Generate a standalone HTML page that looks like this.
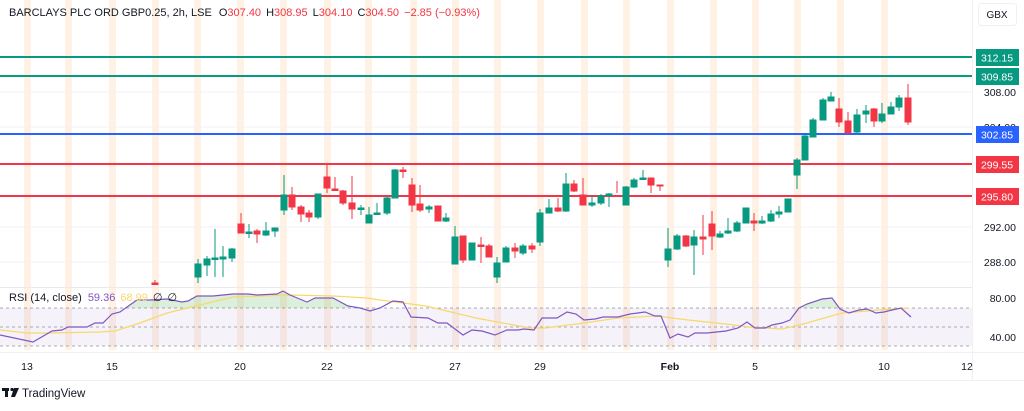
<!DOCTYPE html>
<html><head><meta charset="utf-8"><style>
body{margin:0;background:#fff;width:1024px;height:406px;overflow:hidden;font-family:"Liberation Sans","DejaVu Sans",sans-serif}
</style></head><body>
<svg width="1024" height="406" viewBox="0 0 1024 406" xmlns="http://www.w3.org/2000/svg" font-family="Liberation Sans, DejaVu Sans, sans-serif">
<rect width="1024" height="406" fill="#fff"/>
<g fill="#ffa64d" opacity="0.15">
<rect x="24" y="0" width="7" height="350"/><rect x="65" y="0" width="7" height="350"/><rect x="109" y="0" width="7" height="350"/><rect x="152" y="0" width="7" height="350"/><rect x="194" y="0" width="7" height="350"/><rect x="237" y="0" width="7" height="350"/><rect x="280" y="0" width="7" height="350"/><rect x="324" y="0" width="7" height="350"/><rect x="365" y="0" width="7" height="350"/><rect x="410" y="0" width="7" height="350"/><rect x="452" y="0" width="7" height="350"/><rect x="494" y="0" width="7" height="350"/><rect x="537" y="0" width="7" height="350"/><rect x="581" y="0" width="7" height="350"/><rect x="623" y="0" width="7" height="350"/><rect x="667" y="0" width="7" height="350"/><rect x="710" y="0" width="7" height="350"/><rect x="752" y="0" width="7" height="350"/><rect x="794" y="0" width="7" height="350"/><rect x="837" y="0" width="7" height="350"/><rect x="881" y="0" width="7" height="350"/>
</g>
<g stroke="#f0f2f5" stroke-width="1">
<line x1="0" y1="92" x2="972" y2="92"/><line x1="0" y1="127" x2="972" y2="127"/><line x1="0" y1="227" x2="972" y2="227"/><line x1="0" y1="262" x2="972" y2="262"/>
</g>
<line x1="972.5" y1="0" x2="972.5" y2="380" stroke="#eef0f3"/>
<line x1="0" y1="287.5" x2="972" y2="287.5" stroke="#e8eaee"/>
<line x1="0" y1="57" x2="972" y2="57" stroke="#089981" stroke-width="2"/>
<line x1="0" y1="76" x2="972" y2="76" stroke="#089981" stroke-width="2"/>
<line x1="0" y1="134" x2="972" y2="134" stroke="#2962ff" stroke-width="2"/>
<line x1="0" y1="164" x2="972" y2="164" stroke="#f23645" stroke-width="2"/>
<line x1="0" y1="196" x2="972" y2="196" stroke="#f23645" stroke-width="2"/>
<g stroke-width="1">
<g stroke="#089981" fill="#089981">
<line x1="198" y1="259" x2="198" y2="283"/><rect x="195" y="264" width="6" height="13"/>
<line x1="207" y1="256" x2="207" y2="276"/><rect x="204" y="259" width="6" height="6"/>
<line x1="215" y1="229" x2="215" y2="277"/><rect x="212" y="258" width="6" height="1.5"/>
<line x1="223" y1="246" x2="223" y2="277"/><rect x="220" y="257" width="6" height="2"/>
<line x1="232" y1="248" x2="232" y2="262"/><rect x="229" y="249" width="6" height="9"/>
<line x1="249" y1="224" x2="249" y2="238"/><rect x="246" y="232" width="6" height="1.5"/>
<line x1="266" y1="222" x2="266" y2="236"/><rect x="263" y="231" width="6" height="4"/>
<line x1="275" y1="228" x2="275" y2="237"/><rect x="272" y="228" width="6" height="3"/>
<line x1="284" y1="175" x2="284" y2="215"/><rect x="281" y="195" width="6" height="15"/>
<line x1="318" y1="194" x2="318" y2="219"/><rect x="315" y="194" width="6" height="23"/>
<line x1="361" y1="205" x2="361" y2="215"/><rect x="358" y="208" width="6" height="1.5"/>
<line x1="369" y1="207" x2="369" y2="223"/><rect x="366" y="215" width="6" height="8"/>
<line x1="377" y1="203" x2="377" y2="215"/><rect x="374" y="213" width="6" height="1.5"/>
<line x1="387" y1="196" x2="387" y2="215"/><rect x="384" y="198" width="6" height="15"/>
<line x1="395" y1="169" x2="395" y2="198"/><rect x="392" y="170" width="6" height="28"/>
<line x1="429" y1="205" x2="429" y2="213"/><rect x="426" y="207" width="6" height="2"/>
<line x1="446" y1="213" x2="446" y2="222"/><rect x="443" y="218" width="6" height="3"/>
<line x1="455" y1="226" x2="455" y2="264"/><rect x="452" y="237" width="6" height="27"/>
<line x1="472" y1="243" x2="472" y2="260"/><rect x="469" y="243" width="6" height="17"/>
<line x1="497" y1="257" x2="497" y2="283"/><rect x="494" y="263" width="6" height="14"/>
<line x1="506" y1="246" x2="506" y2="262"/><rect x="503" y="248" width="6" height="14"/>
<line x1="523" y1="244" x2="523" y2="255"/><rect x="520" y="246" width="6" height="7"/>
<line x1="540" y1="209" x2="540" y2="246"/><rect x="537" y="213" width="6" height="29"/>
<line x1="549" y1="199" x2="549" y2="213"/><rect x="546" y="208" width="6" height="5"/>
<line x1="566" y1="173" x2="566" y2="212"/><rect x="563" y="184" width="6" height="27"/>
<line x1="592" y1="195" x2="592" y2="207"/><rect x="589" y="203" width="6" height="2"/>
<line x1="601" y1="194" x2="601" y2="205"/><rect x="598" y="196" width="6" height="7"/>
<line x1="609" y1="193" x2="609" y2="207"/><rect x="606" y="194" width="6" height="1.5"/>
<line x1="626" y1="186" x2="626" y2="205"/><rect x="623" y="187" width="6" height="18"/>
<line x1="634" y1="178" x2="634" y2="188"/><rect x="631" y="180" width="6" height="7"/>
<line x1="643" y1="170" x2="643" y2="180"/><rect x="640" y="178" width="6" height="1.5"/>
<line x1="668" y1="228" x2="668" y2="267"/><rect x="665" y="249" width="6" height="11"/>
<line x1="677" y1="234" x2="677" y2="250"/><rect x="674" y="236" width="6" height="13"/>
<line x1="694" y1="230" x2="694" y2="275"/><rect x="691" y="237" width="6" height="8"/>
<line x1="720" y1="231" x2="720" y2="238"/><rect x="717" y="234" width="6" height="3"/>
<line x1="728" y1="218" x2="728" y2="234"/><rect x="725" y="231" width="6" height="2"/>
<line x1="737" y1="221" x2="737" y2="232"/><rect x="734" y="223" width="6" height="8"/>
<line x1="746" y1="208" x2="746" y2="223"/><rect x="743" y="208" width="6" height="15"/>
<line x1="762" y1="216" x2="762" y2="224"/><rect x="759" y="221" width="6" height="2"/>
<line x1="771" y1="210" x2="771" y2="222"/><rect x="768" y="214" width="6" height="7"/>
<line x1="779" y1="206" x2="779" y2="218"/><rect x="776" y="212" width="6" height="2"/>
<line x1="788" y1="199" x2="788" y2="212"/><rect x="785" y="199" width="6" height="13"/>
<line x1="797" y1="158" x2="797" y2="189"/><rect x="794" y="160" width="6" height="15"/>
<line x1="805" y1="135" x2="805" y2="160"/><rect x="802" y="136" width="6" height="24"/>
<line x1="813" y1="118" x2="813" y2="137"/><rect x="810" y="120" width="6" height="17"/>
<line x1="823" y1="98" x2="823" y2="120"/><rect x="820" y="100" width="6" height="20"/>
<line x1="831" y1="92" x2="831" y2="101"/><rect x="828" y="97" width="6" height="4"/>
<line x1="857" y1="109" x2="857" y2="135"/><rect x="854" y="115" width="6" height="17"/>
<line x1="866" y1="105" x2="866" y2="123"/><rect x="863" y="111" width="6" height="3"/>
<line x1="882" y1="103" x2="882" y2="123"/><rect x="879" y="114" width="6" height="7"/>
<line x1="891" y1="102" x2="891" y2="114"/><rect x="888" y="107" width="6" height="7"/>
<line x1="899" y1="95" x2="899" y2="111"/><rect x="896" y="98" width="6" height="9"/>
</g>
<g stroke="#f23645" fill="#f23645">
<line x1="155" y1="280" x2="155" y2="285"/><rect x="152" y="283" width="6" height="1.5"/>
<line x1="241" y1="213" x2="241" y2="233"/><rect x="238" y="224" width="6" height="9"/>
<line x1="257" y1="229" x2="257" y2="243"/><rect x="254" y="231" width="6" height="3"/>
<line x1="292" y1="187" x2="292" y2="210"/><rect x="289" y="195" width="6" height="12"/>
<line x1="301" y1="205" x2="301" y2="222"/><rect x="298" y="207" width="6" height="7"/>
<line x1="309" y1="210" x2="309" y2="222"/><rect x="306" y="213" width="6" height="4"/>
<line x1="327" y1="165" x2="327" y2="193"/><rect x="324" y="177" width="6" height="11"/>
<line x1="335" y1="177" x2="335" y2="191"/><rect x="332" y="189" width="6" height="1.5"/>
<line x1="343" y1="190" x2="343" y2="205"/><rect x="340" y="191" width="6" height="12"/>
<line x1="352" y1="176" x2="352" y2="219"/><rect x="349" y="203" width="6" height="6"/>
<line x1="403" y1="167" x2="403" y2="178"/><rect x="400" y="170" width="6" height="1.5"/>
<line x1="412" y1="178" x2="412" y2="212"/><rect x="409" y="185" width="6" height="20"/>
<line x1="420" y1="185" x2="420" y2="212"/><rect x="417" y="204" width="6" height="6"/>
<line x1="438" y1="206" x2="438" y2="221"/><rect x="435" y="206" width="6" height="15"/>
<line x1="463" y1="236" x2="463" y2="263"/><rect x="460" y="236" width="6" height="24"/>
<line x1="481" y1="237" x2="481" y2="263"/><rect x="478" y="245" width="6" height="1.5"/>
<line x1="489" y1="244" x2="489" y2="257"/><rect x="486" y="246" width="6" height="11"/>
<line x1="515" y1="243" x2="515" y2="258"/><rect x="512" y="248" width="6" height="3"/>
<line x1="532" y1="243" x2="532" y2="253"/><rect x="529" y="246" width="6" height="3"/>
<line x1="558" y1="198" x2="558" y2="212"/><rect x="555" y="208" width="6" height="3"/>
<line x1="574" y1="180" x2="574" y2="192"/><rect x="571" y="184" width="6" height="7"/>
<line x1="583" y1="178" x2="583" y2="205"/><rect x="580" y="195" width="6" height="10"/>
<line x1="617" y1="181" x2="617" y2="193"/>
<line x1="651" y1="178" x2="651" y2="193"/><rect x="648" y="178" width="6" height="7"/>
<line x1="660" y1="185" x2="660" y2="191"/><rect x="657" y="185" width="6" height="1"/>
<line x1="686" y1="235" x2="686" y2="247"/><rect x="683" y="236" width="6" height="10"/>
<line x1="703" y1="215" x2="703" y2="255"/><rect x="700" y="237" width="6" height="2"/>
<line x1="712" y1="211" x2="712" y2="250"/><rect x="709" y="224" width="6" height="12"/>
<line x1="754" y1="213" x2="754" y2="231"/><rect x="751" y="221" width="6" height="2"/>
<line x1="839" y1="98" x2="839" y2="127"/><rect x="836" y="109" width="6" height="13"/>
<line x1="848" y1="112" x2="848" y2="133"/><rect x="845" y="121" width="6" height="12"/>
<line x1="874" y1="108" x2="874" y2="127"/><rect x="871" y="109" width="6" height="12"/>
<line x1="908" y1="84" x2="908" y2="125"/><rect x="905" y="98" width="6" height="24"/>
</g>
</g>
<rect x="0" y="308" width="972" height="38" fill="#7e57c2" opacity="0.08"/>
<g stroke="#9598a1" stroke-dasharray="3,3" stroke-width="1" opacity="0.8">
<line x1="0" y1="308" x2="972" y2="308"/><line x1="0" y1="327" x2="972" y2="327"/><line x1="0" y1="346" x2="972" y2="346"/>
</g>
<polygon points="127,308 137,300 150,300 167,299 182,302 188,301 197,296 213,296 233,294 248,294 257,295 277,294 283,291 290,295 307,302 315,298 333,298 348,306 350,308" fill="#4caf50" opacity="0.2"/>
<polygon points="800,308 807,304 822,299 832,298 840,308" fill="#4caf50" opacity="0.2"/>
<polyline fill="none" stroke="#f7d96b" stroke-width="1.3" points="0,330 27,333 50,333 100,332 115,331 140,323 167,313 200,305 233,297 290,295 333,296 367,298 380,300 426,306 476,318 530,328 545,328 584,323 618,318 657,316 688,320 726,324 749,327 782,329 803,324 842,313 880,310 909,308"/>
<polyline fill="none" stroke="#7e57c2" stroke-width="1.2" points="0,335 33,342 52,331 62,330 68,327 87,327 95,323 103,323 112,314 120,312 127,307 137,300 150,300 167,299 182,302 188,301 197,296 213,296 233,294 248,294 257,295 277,294 283,291 290,295 307,302 315,298 333,298 348,306 360,308 370,311 380,308 393,301 403,302 411,317 428,318 438,323 447,323 463,335 472,330 482,331 495,335 507,330 518,330 524,329 534,330 542,318 557,318 567,312 576,314 584,320 595,319 603,317 618,317 630,314 645,312 655,316 661,316 670,338 678,334 688,337 695,333 707,333 726,331 738,328 747,322 755,328 765,328 772,325 782,323 790,320 799,308 807,304 822,299 832,298 840,309 849,313 859,310 867,309 876,313 884,312 892,310 901,308 911,317"/>
<text x="9" y="16" font-size="11" fill="#131722">BARCLAYS PLC ORD GBP0.25, 2h, LSE <tspan dx="4">O</tspan><tspan fill="#f23645">307.40</tspan><tspan dx="5">H</tspan><tspan fill="#f23645">308.95</tspan><tspan dx="5">L</tspan><tspan fill="#f23645">304.10</tspan><tspan dx="5">C</tspan><tspan fill="#f23645">304.50</tspan><tspan dx="5" fill="#f23645">−2.85 (−0.93%)</tspan></text>
<text x="9" y="301" font-size="11" fill="#131722">RSI (14, close) <tspan dx="3" fill="#7e57c2">59.36</tspan><tspan dx="5" fill="#f7d96b">68.99</tspan><tspan dx="5">∅</tspan><tspan dx="5">∅</tspan></text>
<rect x="978.5" y="3.5" width="38" height="22" rx="3" fill="#fff" stroke="#eef0f3"/>
<text x="997" y="18" font-size="10" fill="#131722" text-anchor="middle">GBX</text>
<g font-size="10.5" fill="#131722" text-anchor="end">
<text x="1016" y="96">308.00</text><text x="1016" y="131">304.00</text><text x="1016" y="231">292.00</text><text x="1016" y="266">288.00</text>
<text x="1016" y="302">80.00</text><text x="1016" y="341">40.00</text>
</g>
<g font-size="10.5" fill="#fff" text-anchor="middle">
<rect x="976" y="49" width="43" height="17" fill="#089981"/><text x="997" y="61.5">312.15</text>
<rect x="976" y="68" width="43" height="17" fill="#089981"/><text x="997" y="80.5">309.85</text>
<rect x="976" y="126" width="43" height="17" fill="#2962ff"/><text x="997" y="138.5">302.85</text>
<rect x="976" y="156" width="43" height="17" fill="#f23645"/><text x="997" y="168.5">299.55</text>
<rect x="976" y="188" width="43" height="17" fill="#f23645"/><text x="997" y="200.5">295.80</text>
</g>
<line x1="0" y1="352.5" x2="1024" y2="352.5" stroke="#eef0f3"/>
<g font-size="10.5" fill="#131722" text-anchor="middle">
<text x="27" y="370">13</text><text x="112" y="370">15</text><text x="240" y="370">20</text><text x="327" y="370">22</text><text x="455" y="370">27</text><text x="540" y="370">29</text><text x="670" y="370" font-weight="bold">Feb</text><text x="755" y="370">5</text><text x="884" y="370">10</text><text x="967" y="370">12</text>
</g>
<line x1="0" y1="380.5" x2="1024" y2="380.5" stroke="#eef0f3"/>
<g fill="#131722">
<rect x="2" y="388" width="7" height="3"/><rect x="5" y="388" width="3" height="9"/>
<circle cx="12" cy="389.5" r="1.6"/>
<polygon points="14,388 19,388 15,397 11,397"/>
</g>
<text x="22" y="397" font-size="11.5" fill="#131722">TradingView</text>
</svg>
</body></html>
